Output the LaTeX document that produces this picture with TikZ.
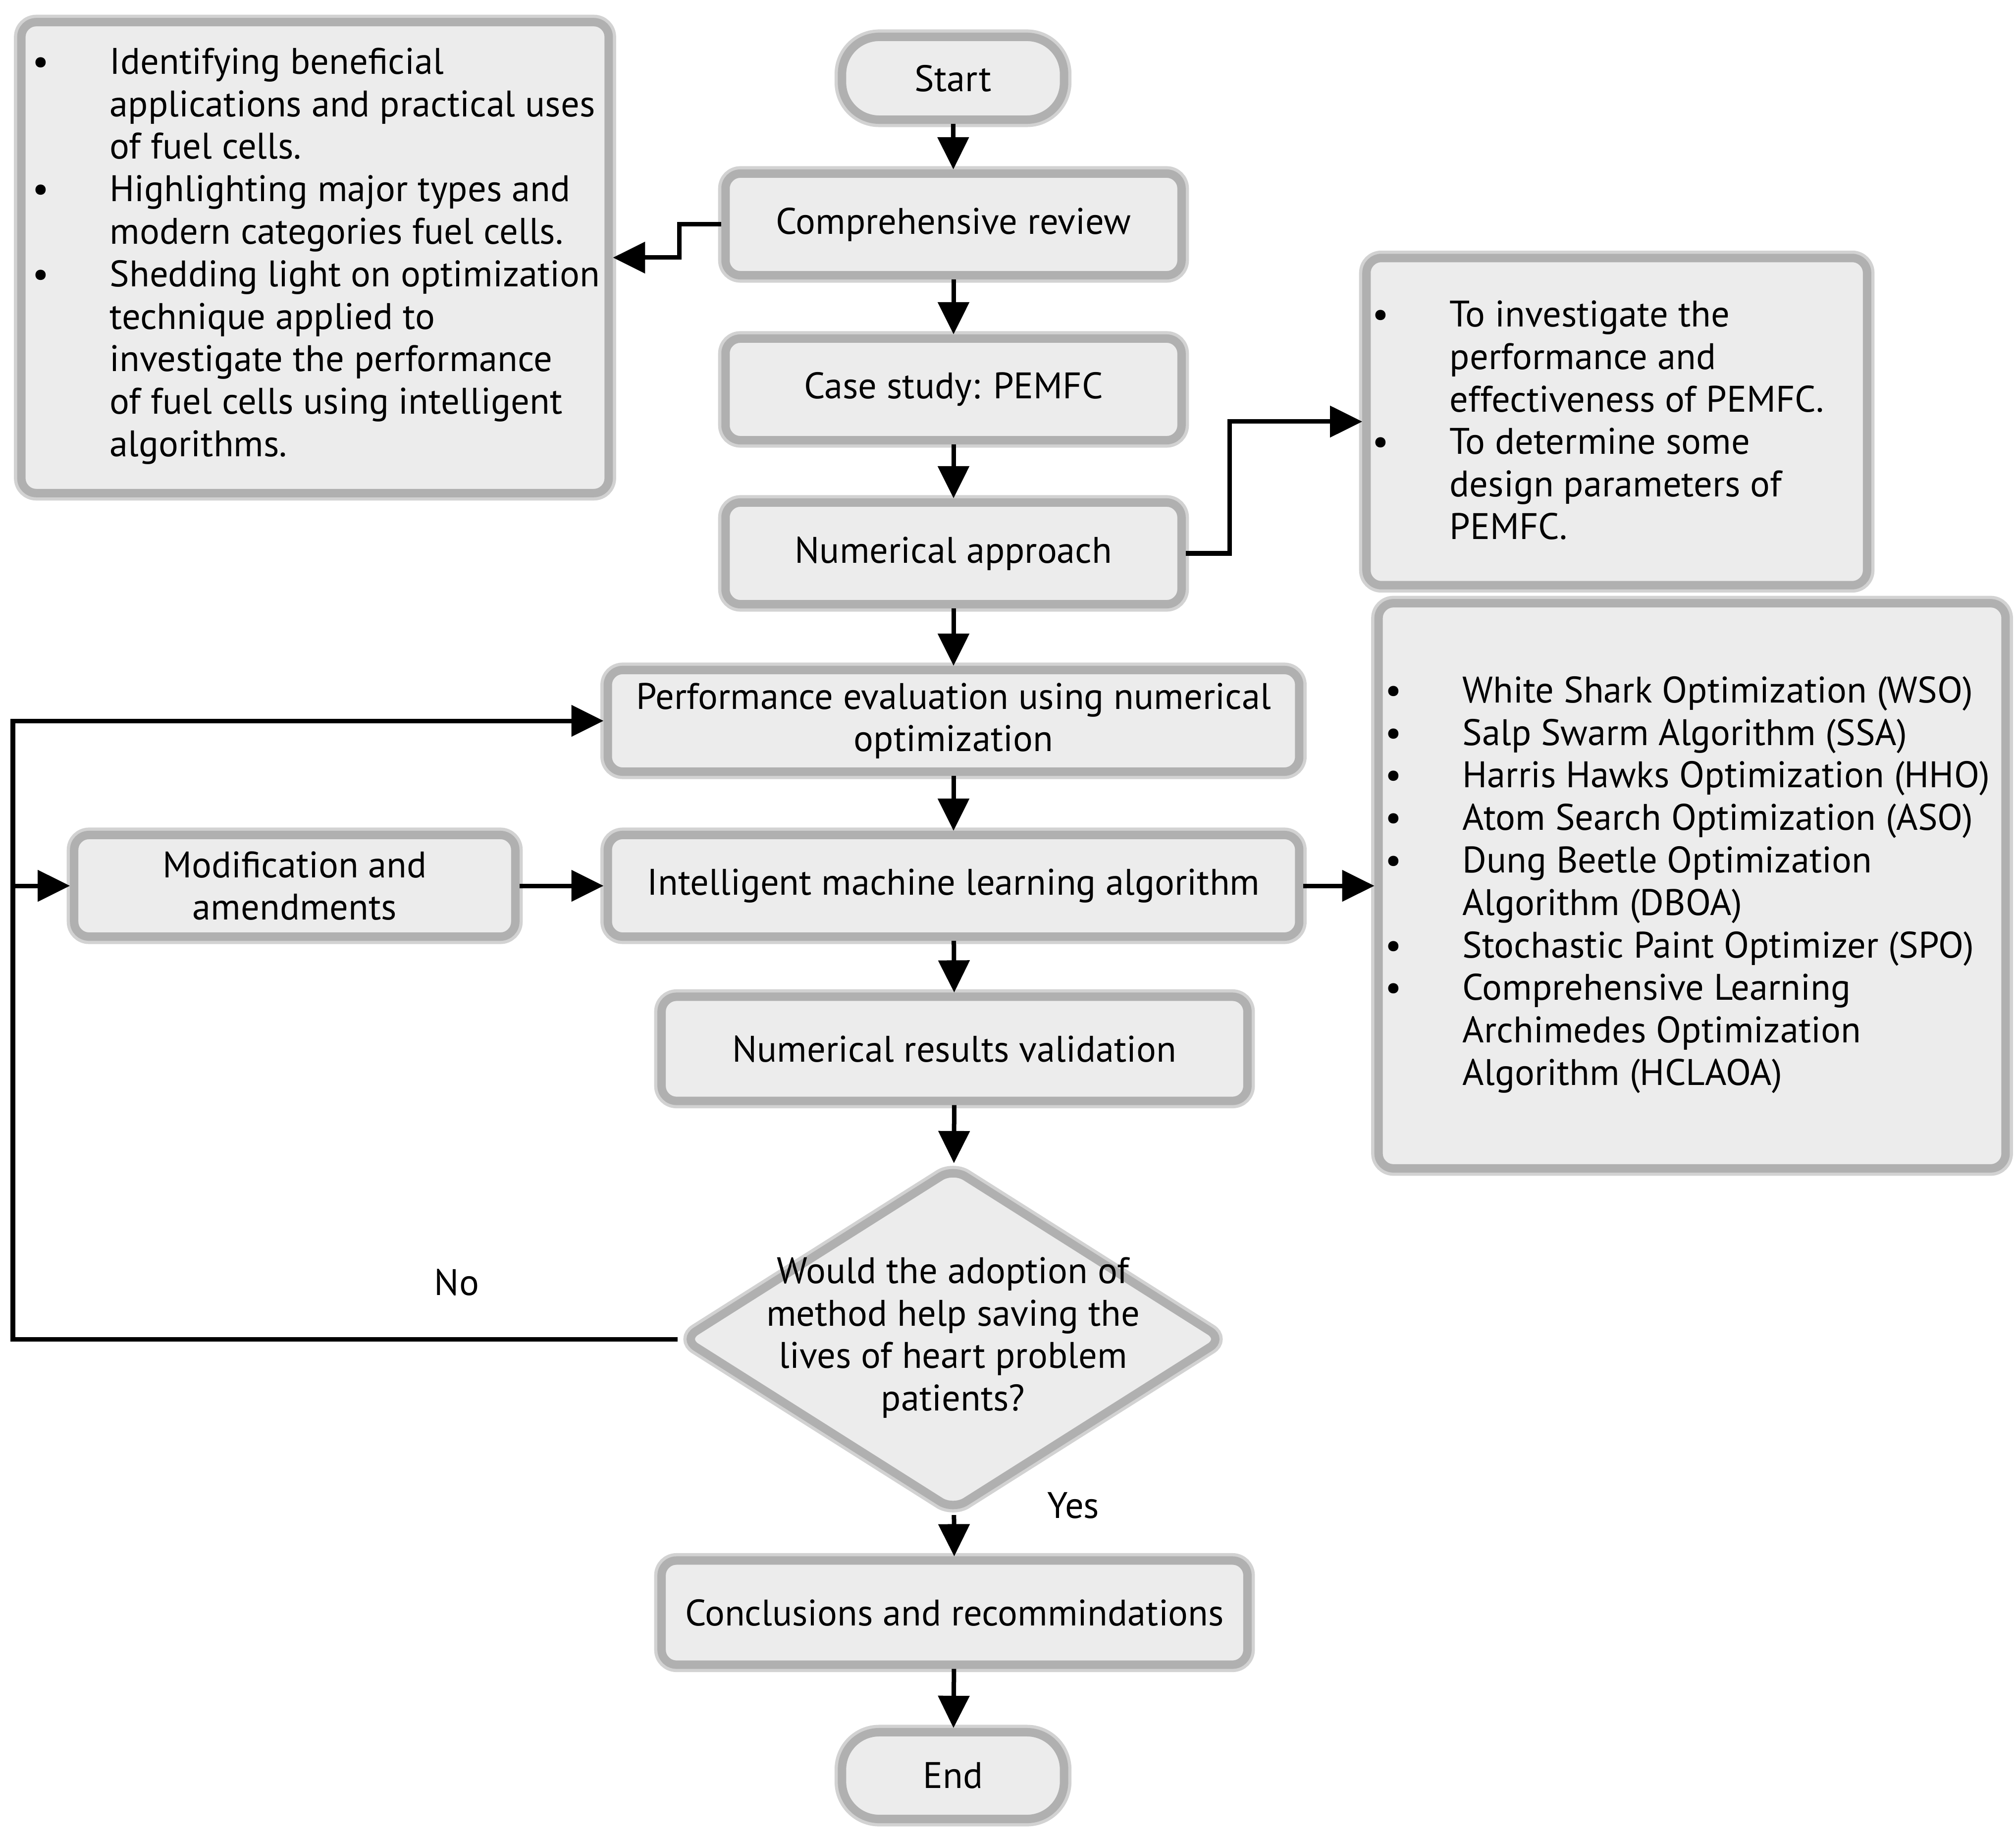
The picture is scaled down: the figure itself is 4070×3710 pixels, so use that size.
\documentclass[tikz,border=0pt]{standalone}
\usepackage{fontspec}
\setmainfont{PT Sans}
\usetikzlibrary{arrows.meta,shapes.geometric}
\definecolor{boxfill}{HTML}{ECECEC}
\definecolor{boxline}{HTML}{B0B0B0}
\definecolor{boxhalo}{HTML}{D2D2D2}
\newcommand\blt{\makebox[1.56cm][l]{•}}
\newcommand\ind{\hspace*{1.56cm}}
\tikzset{
  base/.style={draw=boxline, line width=0.17cm, fill=boxfill,
    preaction={draw=boxhalo, line width=0.3cm},
    font=\fontsize{21.2}{24.4}\selectfont, text=black, inner sep=0pt},
  proc/.style={base, rectangle, rounded corners=0.3cm},
  term/.style={base, rectangle, rounded corners=0.75cm},
  dec/.style={base, diamond, rounded corners=0.3cm},
  arr/.style={line width=0.09cm, -{Triangle[length=0.65cm,width=0.62cm]}},
  txt/.style={font=\fontsize{21.2}{24.4}\selectfont, inner sep=0pt, text=black},
}
\begin{document}
\begin{tikzpicture}[x=0.01cm, y=-0.01cm]
\useasboundingbox (0,0) rectangle (4070,3710);

% main column
\node[term, minimum width=4.48cm, minimum height=1.67cm] (start) at (1924,158) {Start};
\node[proc, minimum width=9.2cm, minimum height=2.05cm] (comp) at (1925,453) {Comprehensive review};
\node[proc, minimum width=9.2cm, minimum height=2.05cm] (case) at (1925,786) {Case study: PEMFC};
\node[proc, minimum width=9.2cm, minimum height=2.05cm] (num) at (1925,1117) {Numerical approach};
\node[proc, minimum width=13.95cm, minimum height=2.05cm, align=center] (perf) at (1925,1455) {Performance evaluation using numerical\\optimization};
\node[proc, minimum width=13.95cm, minimum height=2.05cm] (intel) at (1925,1788) {Intelligent machine learning algorithm};
\node[proc, minimum width=11.82cm, minimum height=2.1cm] (valid) at (1927,2117) {Numerical results validation};
\node[dec, minimum width=10.95cm, minimum height=6.95cm] (dia) at (1924,2703) {};
\node[txt, align=center] (diatxt) at (1924,2700) {Would the adoption of\\method help saving the\\lives of heart problem\\patients?};
\node[proc, minimum width=11.82cm, minimum height=2.1cm] (concl) at (1927,3255) {Conclusions and recommindations};
\node[term, minimum width=4.48cm, minimum height=1.75cm] (end) at (1924,3584) {End};

% side boxes
\node[proc, minimum width=11.85cm, minimum height=9.5cm] (lbox) at (636,520) {};
\node[txt, anchor=west, align=left] (ltxt) at (65,517) {%
\blt Identifying beneficial\\
\ind applications and practical uses\\
\ind of fuel cells.\\
\blt Highlighting major types and\\
\ind modern categories fuel cells.\\
\blt Shedding light on optimization\\
\ind technique applied to\\
\ind investigate the performance\\
\ind of fuel cells using intelligent\\
\ind algorithms.};

\node[proc, minimum width=10.1cm, minimum height=6.6cm] (rbox1) at (3264,851) {};
\node[txt, anchor=west, align=left] (r1txt) at (2770,848) {%
\blt To investigate the\\
\ind performance and\\
\ind effectiveness of PEMFC.\\
\blt To determine some\\
\ind design parameters of\\
\ind PEMFC.};

\node[proc, minimum width=12.65cm, minimum height=11.4cm] (rbox2) at (3416,1788) {};
\node[txt, anchor=west, align=left] (r2txt) at (2796,1786) {%
\blt White Shark Optimization (WSO)\\
\blt Salp Swarm Algorithm (SSA)\\
\blt Harris Hawks Optimization (HHO)\\
\blt Atom Search Optimization (ASO)\\
\blt Dung Beetle Optimization\\
\ind Algorithm (DBOA)\\
\blt Stochastic Paint Optimizer (SPO)\\
\blt Comprehensive Learning\\
\ind Archimedes Optimization\\
\ind Algorithm (HCLAOA)};

\node[proc, minimum width=8.9cm, minimum height=2.05cm, align=center] (mod) at (595,1788) {Modification and\\amendments};

% labels
\node[txt] (no) at (922,2588) {No};
\node[txt] (yes) at (2167,3039) {Yes};

% connectors
\draw[arr] (start) -- (comp);
\draw[arr] (comp) -- (case);
\draw[arr] (case) -- (num);
\draw[arr] (num) -- (perf);
\draw[arr] (perf) -- (intel);
\draw[arr] (intel) -- (valid);
\draw[arr] (valid) -- (dia);
\draw[arr] (dia) -- (concl);
\draw[arr] (concl) -- (end);

\draw[arr] (comp.west) -- ++(-85,0) |- (lbox.east);
\draw[arr] (num.east) -- ++(89,0) |- (rbox1.west);
\draw[arr] (intel.east) -- (rbox2.west |- intel.east);
\draw[arr] (mod.east) -- (intel.west);

\coordinate (lb) at (26,2703);
\coordinate (lm) at (26,1788);
\draw[arr] (dia.west) -- (lb) |- (perf.west);
\draw[arr] (lm) -- (mod.west);
\end{tikzpicture}
\end{document}
